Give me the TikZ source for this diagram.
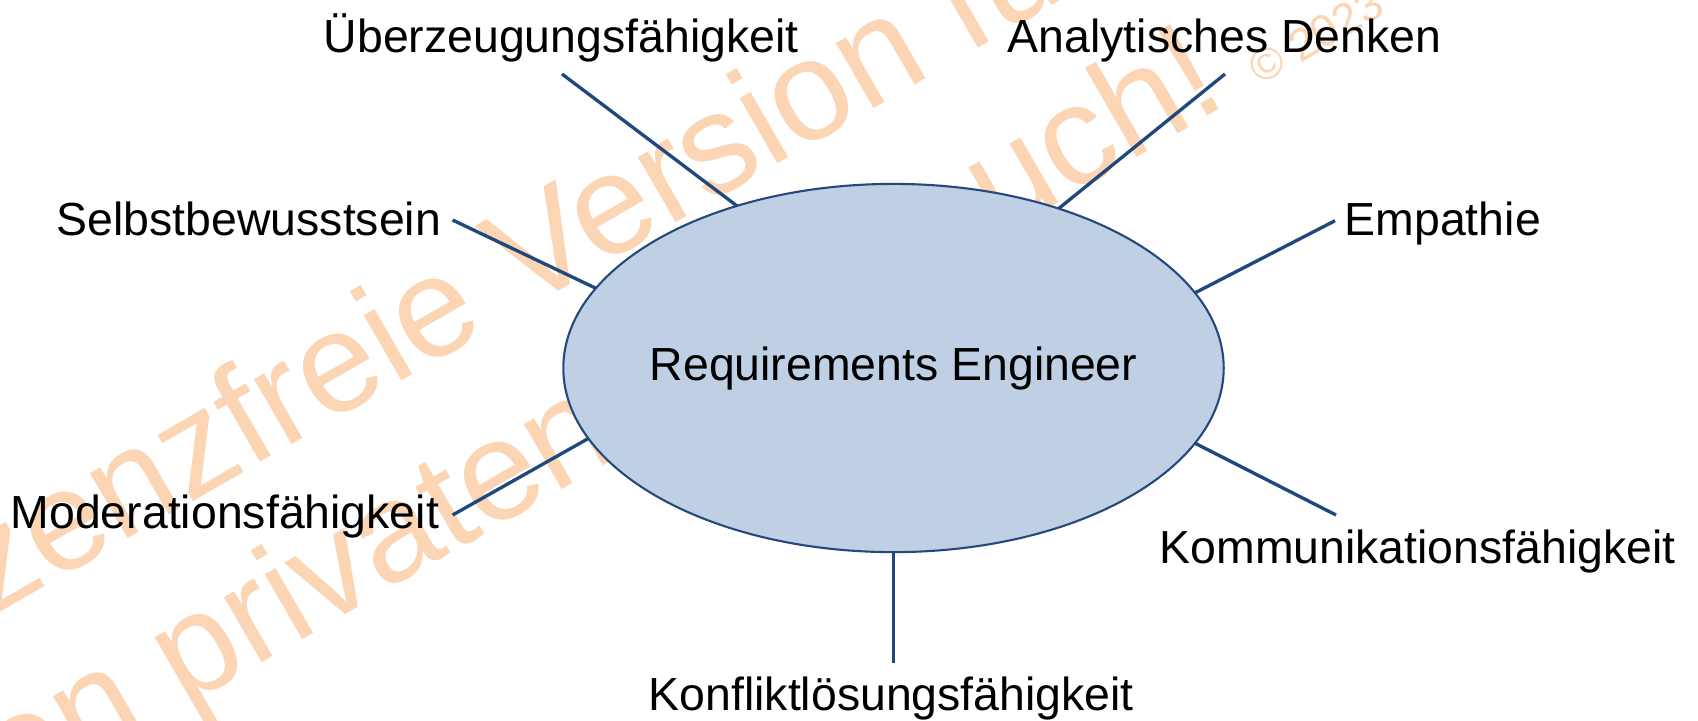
\documentclass[tikz,border=0pt]{standalone}
\usepackage{fontspec}
\setmainfont{Liberation Sans}
\usetikzlibrary{shapes.geometric}
\definecolor{wm}{RGB}{251,213,180}
\definecolor{ln}{RGB}{31,73,125}
\definecolor{efill}{RGB}{192,208,228}
\definecolor{edraw}{RGB}{37,73,125}
\begin{document}
\begin{tikzpicture}[x=0.01cm,y=-0.01cm,
  lbl/.style={anchor=base west,inner sep=0,font=\fontsize{13.2}{16}\selectfont},
  conn/.style={draw=ln,line width=0.95pt},
  wmark/.style={anchor=base west,inner sep=0,rotate=30,text=wm,font=\fontsize{40.4}{48}\selectfont}]
\useasboundingbox (0,0) rectangle (1698,720);
\fill[white] (0,0) rectangle (1698,720);
% watermark (background)
\begin{scope}
\clip (0,0) rectangle (1698,720);
\node[wmark] (wm1) at (-106.4,674.5) {Lizenzfreie Version für};
\node[wmark] (wm2) at (-55.3,845.7) {den privaten Gebrauch!};
\node[wmark,font=\fontsize{12.8}{15}\selectfont] (wm3) at (1260.1,86.2) {© 2023};
\end{scope}
% central ellipse
\node[ellipse,draw=edraw,fill=efill,line width=0.6pt,minimum width=6.6cm,minimum height=3.68cm,inner sep=0,outer sep=0,
  label={[inner sep=0,font=\fontsize{13.2}{16}\selectfont]center:Requirements Engineer}] (re) at (893.5,368) {};
% labels
\node[lbl] (ueb) at (323,52) {Überzeugungsfähigkeit};
\node[lbl] (ana) at (1007,52) {Analytisches Denken};
\node[lbl] (sel) at (56,235) {Selbstbewusstsein};
\node[lbl] (emp) at (1344,235) {Empathie};
\node[lbl] (mod) at (10,528) {Moderationsfähigkeit};
\node[lbl] (kom) at (1159,563) {Kommunikationsfähigkeit};
\node[lbl] (kon) at (648,710) {Konfliktlösungsfähigkeit};
% free ends of connectors
\coordinate (u1) at (562,74);
\coordinate (a1) at (1225,74);
\coordinate (s1) at (452.6,220);
\coordinate (e1) at (1335,220.7);
\coordinate (m1) at (452.6,515);
\coordinate (k1) at (1336,515);
\coordinate (ko1) at (893.5,662.7);
% connectors
\draw[conn] (re.134.7) -- (u1);
\draw[conn] (re.44.9) -- (a1);
\draw[conn] (re.165.7) -- (s1);
\draw[conn] (re.14.0) -- (e1);
\draw[conn] (re.193.3) -- (m1);
\draw[conn] (re.346.5) -- (k1);
\draw[conn] (re.270) -- (ko1);
\end{tikzpicture}
\end{document}
